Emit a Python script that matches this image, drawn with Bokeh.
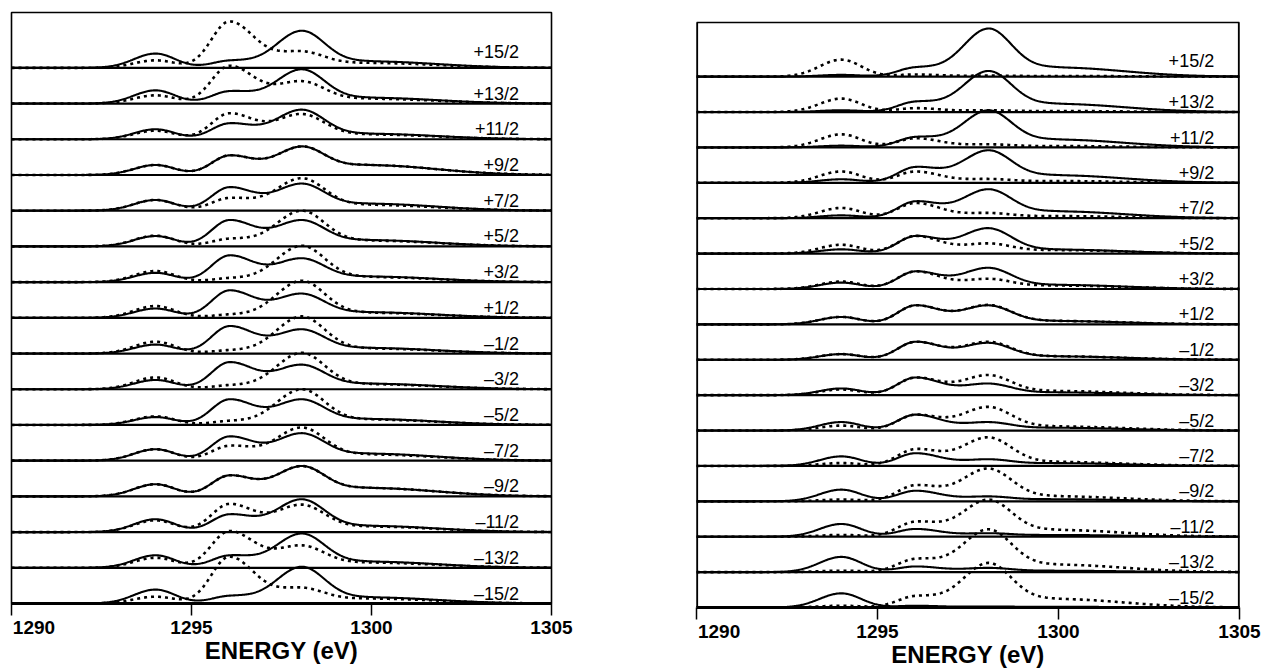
import numpy as np
from bokeh.plotting import figure
from bokeh.models import Range1d, FixedTicker, LinearAxis
from bokeh.layouts import row
from bokeh.embed import file_html
from bokeh.resources import INLINE
from bokeh.core.properties import value

# ---------------- data ----------------
STATES = ["+15/2", "+13/2", "+11/2", "+9/2", "+7/2", "+5/2", "+3/2", "+1/2",
          "–1/2", "–3/2", "–5/2", "–7/2", "–9/2", "–11/2", "–13/2", "–15/2"]
X_TICKS = [1290, 1295, 1300, 1305]
# energies (eV) of the spectral features at which heights were read
PEAK_E = [1294.0, 1296.05, 1298.05, 1300.0]

# heights above each trace's baseline, in units of the trace spacing
# left panel, solid curves
L_SOLID_A = [0.40, 0.37, 0.28, 0.28, 0.30, 0.29, 0.26, 0.26, 0.25, 0.26, 0.22, 0.32, 0.34, 0.36, 0.35, 0.39]
L_SOLID_B = [0.21, 0.35, 0.45, 0.55, 0.66, 0.74, 0.75, 0.77, 0.77, 0.76, 0.72, 0.68, 0.59, 0.50, 0.35, 0.22]
L_SOLID_C = [1.04, 0.96, 0.83, 0.80, 0.76, 0.74, 0.67, 0.68, 0.68, 0.69, 0.72, 0.77, 0.85, 0.92, 0.96, 1.03]
L_SOLID_T = [0.19, 0.17, 0.16, 0.28, 0.20, 0.18, 0.16, 0.16, 0.16, 0.16, 0.17, 0.20, 0.24, 0.18, 0.18, 0.18]
# left panel, dotted curves
L_DOT_A = [0.21, 0.23, 0.24, 0.28, 0.30, 0.30, 0.31, 0.33, 0.33, 0.33, 0.24, 0.32, 0.34, 0.33, 0.28, 0.19]
L_DOT_B = [1.30, 1.06, 0.73, 0.55, 0.36, 0.22, 0.12, 0.10, 0.10, 0.12, 0.12, 0.42, 0.59, 0.79, 1.03, 1.31]
L_DOT_C = [0.47, 0.63, 0.71, 0.80, 0.91, 1.00, 1.02, 1.04, 1.04, 1.02, 1.00, 0.93, 0.85, 0.77, 0.63, 0.45]
L_DOT_T = [0.14, 0.14, 0.14, 0.28, 0.17, 0.17, 0.15, 0.15, 0.15, 0.15, 0.16, 0.18, 0.24, 0.16, 0.15, 0.14]

# right panel, solid curves
R_SOLID_A = [0.05, 0.05, 0.05, 0.10, 0.08, 0.12, 0.18, 0.21, 0.16, 0.19, 0.24, 0.27, 0.33, 0.36, 0.43, 0.40]
R_SOLID_B = [0.27, 0.30, 0.30, 0.45, 0.48, 0.50, 0.50, 0.54, 0.51, 0.50, 0.45, 0.36, 0.30, 0.22, 0.16, 0.05]
R_SOLID_C = [1.36, 1.16, 1.05, 0.92, 0.82, 0.72, 0.60, 0.54, 0.48, 0.33, 0.24, 0.19, 0.14, 0.10, 0.12, 0.03]
R_SOLID_T = [0.27, 0.24, 0.23, 0.22, 0.20, 0.12, 0.12, 0.10, 0.10, 0.08, 0.08, 0.08, 0.06, 0.05, 0.04, 0.02]
# right panel, dotted curves
R_DOT_A = [0.48, 0.38, 0.37, 0.32, 0.29, 0.25, 0.21, 0.21, 0.16, 0.16, 0.14, 0.08, 0.05, 0.05, 0.04, 0.05]
R_DOT_B = [0.06, 0.11, 0.26, 0.32, 0.43, 0.50, 0.50, 0.54, 0.51, 0.50, 0.45, 0.48, 0.46, 0.43, 0.38, 0.33]
R_DOT_C = [0.03, 0.05, 0.09, 0.11, 0.15, 0.29, 0.29, 0.55, 0.51, 0.57, 0.67, 0.81, 0.93, 1.05, 1.21, 1.26]
R_DOT_T = [0.02, 0.03, 0.04, 0.05, 0.06, 0.10, 0.10, 0.10, 0.10, 0.12, 0.12, 0.12, 0.15, 0.20, 0.22, 0.25]

# ---------------- line shapes (left / right widths in eV) ----------------
SHAPES = [(0.6, 0.55), (0.5, 0.7), (0.7, 0.65), (1.0, 1.8)]
E = np.linspace(1290, 1305, 601)


def basis(x, k):
    c = PEAK_E[k]
    sl, sr = SHAPES[k]
    s = np.where(x < c, sl, sr)
    return np.exp(-0.5 * ((x - c) / s) ** 2)


PE = np.array(PEAK_E)
M = np.array([[basis(PE[i:i + 1], k)[0] for k in range(4)] for i in range(4)])


def curve(heights):
    amps = np.clip(np.linalg.solve(M, np.array(heights)), 0, None)
    return sum(a * basis(E, k) for k, a in enumerate(amps))


def make_panel(sa, sb, sc, st, da, db, dc, dt, box_top, y_top, frame_w, frame_h,
               b_left, b_right, label_x, own_outline):
    p = figure(x_range=Range1d(1290, 1305), y_range=Range1d(0, y_top),
               frame_width=frame_w, frame_height=frame_h,
               min_border_left=b_left, min_border_right=b_right,
               min_border_top=12, min_border_bottom=10,
               output_backend="svg", toolbar_location=None,
               x_axis_location=None, y_axis_location=None)
    p.xgrid.visible = False
    p.ygrid.visible = False
    p.background_fill_color = "white"
    p.border_fill_color = "white"
    if own_outline:
        p.outline_line_color = "black"
        p.outline_line_width = 1.6
    else:
        p.outline_line_color = None
        p.multi_line([[1290, 1290, 1305, 1305]], [[0, box_top, box_top, 0]],
                     line_color="black", line_width=1.6)
        p.multi_line([[1290, 1290], [1305, 1305]], [[0, box_top], [0, box_top]],
                     line_color="black", line_width=3.2)

    n = len(STATES)
    offs = [n - 1 - i for i in range(n)]
    p.segment(x0=[1290] * n, x1=[1305] * n, y0=offs, y1=offs,
              line_color="black", line_width=2.2)

    xs_s, ys_s, xs_d, ys_d = [], [], [], []
    for i in range(n):
        ys_s.append(offs[i] + curve([sa[i], sb[i], sc[i], st[i]]))
        xs_s.append(E)
        ys_d.append(offs[i] + curve([da[i], db[i], dc[i], dt[i]]))
        xs_d.append(E)
    p.multi_line(xs_s, ys_s, line_color="black", line_width=2.1)
    p.multi_line(xs_d, ys_d, line_color="black", line_width=2.6,
                 line_dash="3 4")

    ly = [o + (0.45 if i == 0 else 0.28) for i, o in enumerate(offs)]
    p.text(x=[label_x] * n, y=ly, text=STATES, text_align="right",
           text_baseline="alphabetic", text_font=value("Liberation Sans"),
           text_font_size="18px", text_color="black")

    # axis 1: the tick marks only (labels not painted)
    ax1 = LinearAxis(ticker=FixedTicker(ticks=X_TICKS, minor_ticks=[]))
    ax1.major_tick_in = 0
    ax1.major_tick_out = 12
    ax1.minor_tick_in = 0
    ax1.minor_tick_out = 0
    ax1.major_tick_line_width = 1.5
    ax1.axis_line_width = 3
    ax1.major_label_text_color = None
    ax1.major_label_text_font_size = "1px"
    ax1.major_label_standoff = 0
    p.add_layout(ax1, "below")

    # axis 2: tick labels (the first one set flush right of its tick) and title
    first_pos = X_TICKS[0] + 0.625
    lab_ticks = [first_pos] + X_TICKS[1:]
    ax2 = LinearAxis(ticker=FixedTicker(ticks=lab_ticks, minor_ticks=[]))
    ax2.major_label_overrides = {first_pos: str(X_TICKS[0])}
    ax2.axis_line_color = None
    ax2.major_tick_line_color = None
    ax2.minor_tick_line_color = None
    ax2.major_tick_in = 0
    ax2.major_tick_out = 0
    ax2.major_label_standoff = 5
    ax2.major_label_text_font = "Liberation Sans"
    ax2.major_label_text_font_style = "bold"
    ax2.major_label_text_font_size = "19px"
    ax2.major_label_text_color = "black"
    ax2.axis_label = "ENERGY (eV)"
    ax2.axis_label_text_font = "Liberation Sans"
    ax2.axis_label_text_font_style = "bold"
    ax2.axis_label_text_font_size = "24px"
    ax2.axis_label_text_color = "black"
    ax2.axis_label_standoff = 0
    p.add_layout(ax2, "below")
    return p


left = make_panel(L_SOLID_A, L_SOLID_B, L_SOLID_C, L_SOLID_T,
                  L_DOT_A, L_DOT_B, L_DOT_C, L_DOT_T,
                  box_top=16.55, y_top=16.55, frame_w=540, frame_h=591,
                  b_left=11, b_right=85, label_x=1304.1, own_outline=True)
right = make_panel(R_SOLID_A, R_SOLID_B, R_SOLID_C, R_SOLID_T,
                   R_DOT_A, R_DOT_B, R_DOT_C, R_DOT_T,
                   box_top=16.53, y_top=16.53 + 10 / 35.4, frame_w=543, frame_h=595,
                   b_left=60, b_right=24, label_x=1304.3, own_outline=False)

layout = row(left, right, spacing=0)
open("out.html", "w").write(file_html(layout, INLINE))
